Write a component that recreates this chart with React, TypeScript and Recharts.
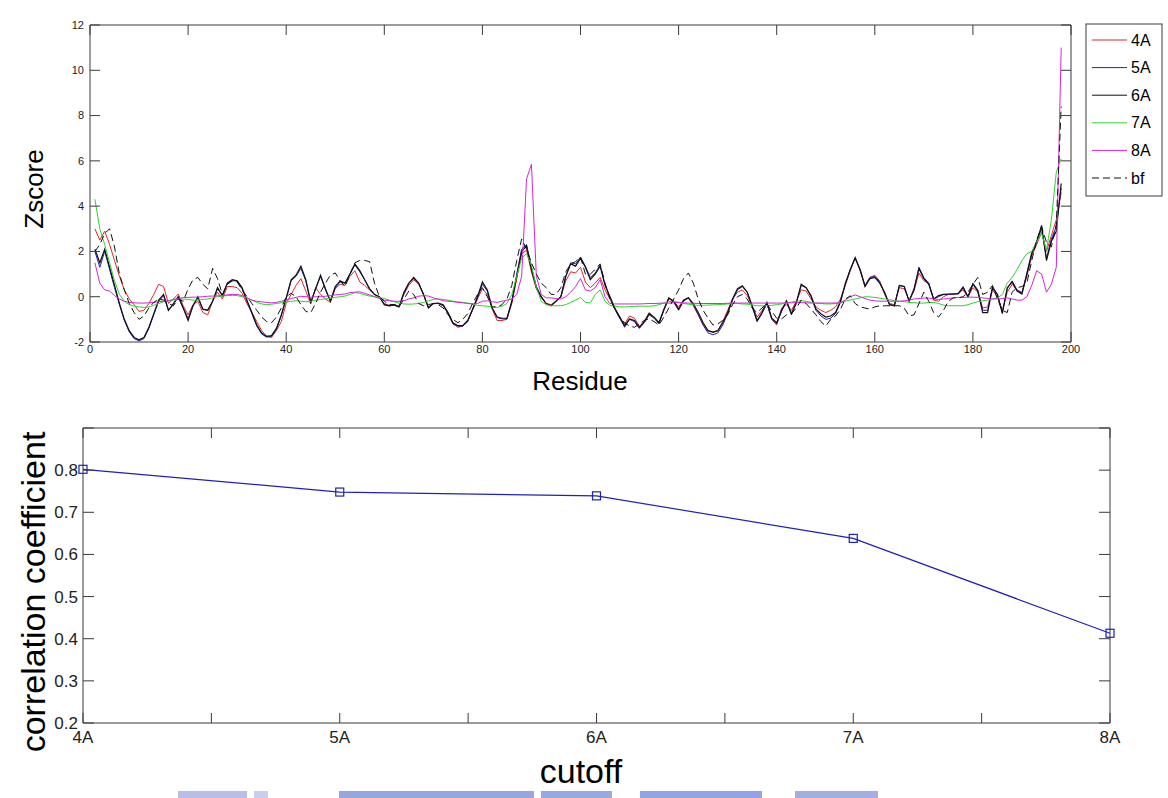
import React from 'react';
import { LineChart, Line, XAxis, YAxis } from 'recharts';

// ---------- Top plot: Zscore per residue ----------
const residues = Array.from({ length: 198 }, (_, i) => i + 1);

const z4A = [
  3.0, 2.5, 2.9, 2.3, 1.6, 0.9, 0.3, -0.1, -0.35, -0.65,
  -0.6, -0.3, 0.1, 0.55, 0.45, -0.3, -0.1, 0.12, -0.4, -0.8,
  -0.35, -0.2, -0.7, -0.8, -0.2, 0.2, -0.1, 0.45, 0.45, 0.4,
  0.15, -0.3, -0.7, -1.1, -1.5, -1.75, -1.8, -1.5, -1.1, -0.3,
  0.1, 0.5, 0.8, 0.25, -0.32, 0.4, 0.1, -0.1, -0.25, 0.35,
  0.55, 0.5, 0.9, 1.15, 0.65, 0.5, 0.3, 0.1, -0.05, -0.3,
  -0.38, -0.35, -0.42, 0.1, 0.5, 0.75, 0.55, 0.1, -0.45, -0.3,
  -0.3, -0.4, -0.75, -1.2, -1.35, -1.3, -1.1, -0.6, -0.1, 0.35,
  0.1, -0.55, -1.05, -1.05, -1.0, -0.3, 0.8, 1.9, 2.05, 1.1,
  0.35, -0.05, -0.3, -0.35, -0.2, 0.0, 0.7, 1.1, 1.05, 1.3,
  0.65, 0.4, 0.6, 0.85, 0.3, -0.1, -0.55, -0.95, -1.2, -0.85,
  -0.95, -1.3, -1.1, -0.7, -0.9, -1.15, -0.6, -0.1, -0.2, -0.45,
  -0.15, -0.05, -0.4, -0.8, -1.25, -1.5, -1.55, -1.5, -1.1, -0.6,
  -0.1, 0.2, 0.3, 0.05, -0.4, -0.9, -0.6, -0.3, -1.0, -1.25,
  -0.5, -0.35, -0.6, -0.2, 0.3, 0.25, -0.1, -0.45, -0.6, -0.7,
  -0.6, -0.45, -0.1, 0.5, 1.15, 1.7, 1.15, 0.45, 0.85, 0.95,
  0.7, 0.1, -0.3, -0.35, 0.4, 0.35, -0.15, 0.25, 1.05, 0.7,
  0.6, -0.15, -0.2, 0.0, 0.1, 0.1, 0.15, 0.3, 0.0, 0.4,
  0.2, -0.5, -0.45, 0.3, 0.0, -0.6, 0.2, 0.55, 0.3, 0.2,
  0.9, 1.8, 2.3, 2.85, 2.0, 2.7, 3.4, 4.6,
];

const z5A = [
  2.0, 1.3, 2.0, 1.2, 0.4, -0.35, -1.05, -1.55, -1.85, -1.95,
  -1.85, -1.4, -0.8, -0.2, 0.05, -0.6, -0.35, 0.0, -0.5, -0.95,
  -0.4, -0.05, -0.55, -0.6, -0.2, 0.35, 0.05, 0.6, 0.7, 0.7,
  0.35, -0.2, -0.75, -1.3, -1.65, -1.78, -1.75, -1.45, -0.85, -0.1,
  0.7, 0.9, 1.25, 0.7, -0.25, 0.35, 0.9, 0.3, -0.2, 0.4,
  0.65, 0.6, 1.0, 1.4, 1.1, 0.75, 0.35, 0.1, 0.0, -0.35,
  -0.4, -0.38, -0.45, 0.15, 0.6, 0.8, 0.6, 0.1, -0.5, -0.3,
  -0.3, -0.38, -0.75, -1.2, -1.3, -1.3, -1.1, -0.55, -0.05, 0.55,
  0.25, -0.5, -0.92, -0.98, -0.98, -0.2, 1.0, 2.1, 2.3, 1.3,
  0.45, 0.0, -0.3, -0.4, -0.2, 0.0, 0.9, 1.5, 1.45, 1.75,
  1.35, 0.85, 1.05, 1.4, 0.55, 0.0, -0.55, -0.95, -1.35, -1.0,
  -1.1, -1.4, -1.15, -0.8, -0.95, -1.2, -0.6, -0.05, -0.25, -0.6,
  -0.2, -0.05, -0.35, -0.8, -1.25, -1.6, -1.68, -1.6, -1.25, -0.75,
  -0.15, 0.3, 0.45, 0.2, -0.45, -1.1, -0.75, -0.3, -1.0, -1.2,
  -0.65, -0.2, -0.8, -0.3, 0.5, 0.4, 0.0, -0.6, -0.85, -1.0,
  -0.95, -0.75, -0.25, 0.55, 1.2, 1.7, 1.2, 0.5, 0.85, 0.9,
  0.65, 0.15, -0.35, -0.4, 0.5, 0.45, -0.2, 0.3, 1.3, 0.85,
  0.6, -0.1, 0.0, 0.1, 0.1, 0.12, 0.15, 0.45, 0.0, 0.6,
  0.3, -0.6, -0.6, 0.45, 0.1, -0.7, 0.35, 0.7, 0.3, 0.15,
  1.05, 1.95, 2.45, 3.0, 1.7, 2.55, 3.1, 4.8,
];

const z6A = [
  2.1, 1.5, 2.1, 1.3, 0.5, -0.3, -1.0, -1.5, -1.8, -1.9,
  -1.8, -1.35, -0.75, -0.15, 0.1, -0.6, -0.3, 0.0, -0.5, -1.05,
  -0.4, 0.0, -0.55, -0.6, -0.2, 0.4, 0.05, 0.6, 0.75, 0.7,
  0.4, -0.15, -0.7, -1.25, -1.6, -1.75, -1.72, -1.4, -0.8, -0.05,
  0.75, 0.95, 1.35, 0.75, -0.25, 0.35, 0.95, 0.35, -0.2, 0.45,
  0.7, 0.6, 1.0, 1.45, 1.15, 0.75, 0.35, 0.1, 0.0, -0.35,
  -0.4, -0.35, -0.45, 0.2, 0.6, 0.85, 0.6, 0.1, -0.5, -0.3,
  -0.28, -0.35, -0.7, -1.15, -1.28, -1.28, -1.05, -0.55, 0.0, 0.65,
  0.3, -0.5, -0.9, -0.95, -0.95, -0.2, 0.9, 2.0, 2.25, 1.2,
  0.4, 0.0, -0.3, -0.4, -0.2, 0.0, 0.9, 1.45, 1.35, 1.7,
  1.3, 0.75, 1.0, 1.35, 0.5, 0.0, -0.5, -0.9, -1.28, -0.98,
  -1.05, -1.35, -1.1, -0.75, -0.9, -1.15, -0.55, -0.05, -0.2, -0.55,
  -0.15, -0.05, -0.3, -0.7, -1.15, -1.5, -1.57, -1.5, -1.15, -0.7,
  -0.1, 0.35, 0.48, 0.2, -0.4, -1.05, -0.7, -0.25, -0.95, -1.15,
  -0.6, -0.18, -0.75, -0.25, 0.55, 0.4, 0.05, -0.55, -0.75, -0.9,
  -0.85, -0.7, -0.2, 0.6, 1.2, 1.73, 1.2, 0.45, 0.8, 0.85,
  0.6, 0.2, -0.35, -0.4, 0.5, 0.45, -0.2, 0.35, 1.25, 0.8,
  0.55, -0.1, 0.05, 0.1, 0.12, 0.12, 0.12, 0.4, 0.0, 0.55,
  0.25, -0.7, -0.7, 0.4, 0.1, -0.75, 0.4, 0.65, 0.25, 0.12,
  1.0, 1.9, 2.4, 3.15, 1.6, 2.45, 2.9, 5.0,
];

const z7A = [
  4.3, 3.0, 2.3, 1.5, 0.7, 0.1, -0.2, -0.35, -0.42, -0.45,
  -0.47, -0.45, -0.38, -0.3, -0.22, -0.2, -0.15, -0.12, -0.1, -0.12,
  -0.15, -0.15, -0.12, -0.1, -0.05, 0.0, 0.03, 0.05, 0.06, 0.05,
  0.0, -0.05, -0.15, -0.25, -0.32, -0.35, -0.33, -0.3, -0.27, -0.24,
  -0.2, -0.18, -0.2, -0.22, -0.2, -0.16, -0.12, -0.1, -0.06, -0.03,
  0.0, 0.03, 0.1, 0.18, 0.15, 0.08, 0.03, 0.0, -0.03, -0.08,
  -0.15, -0.22, -0.28, -0.32, -0.33, -0.32, -0.3, -0.25, -0.18, -0.12,
  -0.1, -0.12, -0.15, -0.2, -0.23, -0.25, -0.28, -0.32, -0.38, -0.4,
  -0.42, -0.45, -0.47, -0.42, -0.3, 0.1, 0.9, 1.7, 1.9, 1.4,
  0.4, -0.2, -0.35, -0.4, -0.4, -0.4, -0.35, -0.25, -0.15, -0.03,
  -0.25, -0.28, 0.1, 0.3, -0.2, -0.38, -0.42, -0.45, -0.45, -0.44,
  -0.43, -0.42, -0.42, -0.42, -0.4, -0.35, -0.28, -0.22, -0.2, -0.25,
  -0.3, -0.33, -0.36, -0.38, -0.38, -0.37, -0.36, -0.35, -0.34, -0.32,
  -0.3, -0.3, -0.32, -0.33, -0.36, -0.4, -0.4, -0.4, -0.38, -0.35,
  -0.32, -0.28, -0.24, -0.2, -0.18, -0.2, -0.25, -0.28, -0.3, -0.32,
  -0.32, -0.3, -0.27, -0.2, -0.14, -0.1, -0.05, 0.0, -0.01, -0.03,
  -0.06, -0.1, -0.13, -0.17, -0.2, -0.22, -0.25, -0.27, -0.28, -0.28,
  -0.26, -0.25, -0.3, -0.37, -0.4, -0.4, -0.4, -0.4, -0.35, -0.28,
  -0.22, -0.18, -0.15, -0.1, -0.05, 0.1, 0.6, 0.85, 1.2, 1.6,
  1.9, 2.0, 2.4, 2.8, 2.05, 3.4, 5.5, 6.1,
];

const z8A = [
  1.5, 0.6, 0.3, 0.25, 0.05, -0.1, -0.2, -0.25, -0.27, -0.28,
  -0.28, -0.27, -0.25, -0.22, -0.2, -0.17, -0.12, -0.08, -0.04, -0.03,
  -0.02, -0.02, 0.0, 0.02, 0.03, 0.04, 0.05, 0.08, 0.1, 0.1,
  0.05, -0.05, -0.15, -0.2, -0.23, -0.25, -0.27, -0.25, -0.2, -0.15,
  -0.08, -0.03, 0.02, 0.0, -0.02, 0.0, 0.0, 0.02, 0.05, 0.08,
  0.1, 0.12, 0.18, 0.2, 0.22, 0.15, 0.08, 0.0, -0.08, -0.15,
  -0.18, -0.2, -0.2, -0.18, -0.1, -0.05, 0.02, 0.05, 0.03, -0.05,
  -0.1, -0.18, -0.2, -0.22, -0.25, -0.27, -0.3, -0.32, -0.3, -0.2,
  -0.18, -0.22, -0.25, -0.2, -0.15, -0.1, 0.1, 0.9, 5.2, 5.85,
  0.9, 0.1, -0.05, -0.05, -0.08, -0.1, 0.0, 0.2, 0.45, 0.8,
  0.3, 0.25, 0.4, 0.75, 0.0, -0.3, -0.32, -0.32, -0.32, -0.32,
  -0.32, -0.32, -0.31, -0.3, -0.3, -0.29, -0.28, -0.28, -0.27, -0.25,
  -0.27, -0.28, -0.29, -0.3, -0.3, -0.3, -0.3, -0.3, -0.3, -0.29,
  -0.28, -0.28, -0.28, -0.28, -0.28, -0.28, -0.28, -0.28, -0.28, -0.28,
  -0.28, -0.27, -0.27, -0.26, -0.26, -0.27, -0.28, -0.28, -0.28, -0.28,
  -0.28, -0.28, -0.25, -0.15, 0.0, 0.08, 0.0, -0.08, -0.15, -0.18,
  -0.2, -0.2, -0.2, -0.2, -0.2, -0.18, -0.15, -0.1, -0.08, -0.06,
  -0.06, -0.1, -0.12, -0.1, -0.08, -0.05, -0.03, -0.03, -0.02, -0.02,
  -0.03, -0.05, -0.08, -0.1, -0.1, -0.08, -0.05, -0.1, -0.15, -0.15,
  0.0, 0.5, 1.15, 1.0, 0.2, 0.55, 1.3, 11.0,
];

const zbf = [
  2.0, 2.3, 2.8, 3.0, 2.2, 1.0, 0.3, -0.3, -0.7, -1.0,
  -0.85, -0.5, -0.25, -0.1, -0.15, -0.3, -0.4, -0.1, -0.2, 0.35,
  0.75, 0.85, 0.55, 0.35, 1.25, 0.8, 0.1, 0.55, 0.7, 0.65,
  0.3, 0.0, -0.3, -0.6, -0.9, -1.1, -1.15, -0.9, -0.5, 0.0,
  0.15, 0.0, -0.35, -0.65, -0.7, -0.3, 0.2, 0.6, 0.95, 1.05,
  0.7, 0.45, 1.0, 1.5, 1.6, 1.6, 1.55, 0.6, 0.0, -0.2,
  -0.35, -0.35, -0.45, -0.1, 0.25, 0.1, -0.3, -0.4, -0.35, -0.3,
  -0.35, -0.5, -0.8, -1.0, -1.15, -1.0, -0.75, -0.3, 0.1, 0.4,
  0.0, -0.45, -0.45, -0.35, -0.1, 0.5, 1.6, 2.55, 2.1, 1.5,
  1.0, 0.6, 0.4, 0.1, 0.1, 0.4, 1.1, 1.45, 1.55, 1.75,
  1.0, 1.0, 1.2, 1.45, 0.6, -0.1, -0.55, -0.9, -1.15, -1.3,
  -1.35, -1.2, -1.05, -0.98, -1.1, -1.25, -0.9, -0.5, -0.1, 0.3,
  0.8, 1.05, 0.6, -0.1, -0.6, -0.95, -1.25, -1.2, -1.05, -0.8,
  -0.35, 0.0, 0.1, -0.1, -0.5, -0.7, -0.5, -0.3, -0.65, -0.95,
  -0.98, -0.8, -0.75, -0.5, -0.15, -0.3, -0.55, -0.8, -1.1, -1.3,
  -1.0, -0.85, -0.55, -0.1, 0.04, -0.3, -0.45, -0.5, -0.55, -0.45,
  -0.4, -0.4, -0.4, -0.4, -0.4, -0.5, -0.85, -0.8, -0.3, 0.2,
  -0.2, -0.7, -0.9, -0.6, -0.2, -0.05, -0.05, 0.0, 0.2, 0.55,
  0.85, 0.1, 0.2, 0.5, -0.1, -0.6, -0.7, 0.2, 0.4, 0.45,
  0.6, 1.6, 2.5, 3.1, 2.4, 2.2, 3.2, 8.4,
];

const zSeriesNames = ['4A', '5A', '6A', '7A', '8A', 'bf'];
const zSeriesColors = ['#e3262a', '#2121b8', '#111111', '#2fd22f', '#d624d6', '#111111'];
const zSeriesDash = ['', '', '', '', '', '7 4'];
const zSeriesValues = [z4A, z5A, z6A, z7A, z8A, zbf];

const zTicksX = [0, 20, 40, 60, 80, 100, 120, 140, 160, 180, 200];
const zTicksY = [-2, 0, 2, 4, 6, 8, 10, 12];

const zData = residues.map((r, i) => {
  const row: Record<string, number> = { res: r };
  zSeriesNames.forEach((n, k) => {
    row[n] = zSeriesValues[k][i];
  });
  return row;
});

// ---------- Bottom plot: correlation coefficient per cutoff ----------
const cutoffs = ['4A', '5A', '6A', '7A', '8A'];
const corrValues = [0.802, 0.748, 0.739, 0.638, 0.413];
const corrTicksX = [4, 4.5, 5, 5.5, 6, 6.5, 7, 7.5, 8];
const corrTicksY = [0.2, 0.3, 0.4, 0.5, 0.6, 0.7, 0.8, 0.9];

const corrData = cutoffs.map((c, i) => ({ pos: i + 4, cutoff: c, corr: corrValues[i] }));

const frameColor = '#3a3a3a';
const axisStroke = { stroke: frameColor, strokeWidth: 1 };
const smallTick = { fontSize: 11, fill: '#222', fontFamily: 'Liberation Sans, Arial, sans-serif' };
const bigTick = { fontSize: 17, fill: '#222', fontFamily: 'Liberation Sans, Arial, sans-serif' };

const SquareDot = (props: any) => {
  const { cx, cy } = props;
  if (cx == null || cy == null) return null;
  return <rect x={cx - 4} y={cy - 4} width={8} height={8} fill="none" stroke="#2020b8" strokeWidth={1.2} />;
};

const blurBars = [
  { l: 178, w: 69, c: '#b7bfe4' },
  { l: 254, w: 14, c: '#c9cfe9' },
  { l: 339, w: 195, c: '#98a6e0' },
  { l: 541, w: 71, c: '#9aa8e2' },
  { l: 640, w: 122, c: '#93a3e3' },
  { l: 795, w: 83, c: '#a3afe2' },
];

export default function App() {
  return (
    <div style={{ position: 'absolute', left: 0, top: 0, width: 1168, height: 798, background: '#fff', overflow: 'hidden' }}>
      <div style={{ position: 'absolute', left: 0, top: 0 }}>
        <LineChart width={1168} height={400} data={zData} margin={{ top: 24, right: 96, bottom: 28, left: 60 }}>
          <XAxis
            xAxisId="b"
            dataKey="res"
            type="number"
            domain={[0, 200]}
            ticks={zTicksX}
            interval={0}
            allowDataOverflow
            height={30}
            tickSize={-10}
            tickMargin={13}
            tick={smallTick}
            axisLine={axisStroke}
            tickLine={axisStroke}
          />
          <XAxis
            xAxisId="t"
            orientation="top"
            dataKey="res"
            type="number"
            domain={[0, 200]}
            ticks={zTicksX}
            interval={0}
            allowDataOverflow
            height={1}
            tickSize={-10}
            tickFormatter={() => ''}
            axisLine={axisStroke}
            tickLine={axisStroke}
          />
          <YAxis
            yAxisId="l"
            type="number"
            domain={[-2, 12]}
            ticks={zTicksY}
            interval={0}
            allowDataOverflow
            width={30}
            tickSize={-10}
            tickMargin={16}
            tick={smallTick}
            axisLine={axisStroke}
            tickLine={axisStroke}
          />
          <YAxis
            yAxisId="r"
            orientation="right"
            type="number"
            domain={[-2, 12]}
            ticks={zTicksY}
            interval={0}
            allowDataOverflow
            width={1}
            tickSize={-10}
            tickFormatter={() => ''}
            axisLine={axisStroke}
            tickLine={axisStroke}
          />
          <Line
            xAxisId="t"
            yAxisId="r"
            dataKey="6A"
            stroke="none"
            dot={false}
            activeDot={false}
            legendType="none"
            isAnimationActive={false}
          />
          {zSeriesNames.map((n, k) => (
            <Line
              key={n}
              xAxisId="b"
              yAxisId="l"
              type="linear"
              dataKey={n}
              stroke={zSeriesColors[k]}
              strokeWidth={k === 2 ? 1.2 : 1}
              strokeDasharray={zSeriesDash[k] || undefined}
              dot={false}
              activeDot={false}
              isAnimationActive={false}
            />
          ))}
        </LineChart>
      </div>

      <div style={{ position: 'absolute', left: 0, top: 400 }}>
        <LineChart width={1168} height={398} data={corrData} margin={{ top: 27, right: 57, bottom: 35, left: 43 }}>
          <XAxis
            xAxisId="b"
            dataKey="pos"
            type="number"
            domain={[4, 8]}
            ticks={corrTicksX}
            interval={0}
            height={40}
            tickSize={-10}
            tickMargin={18}
            tick={bigTick}
            tickFormatter={(v: number) => (Number.isInteger(v) ? cutoffs[v - 4] : '')}
            axisLine={axisStroke}
            tickLine={axisStroke}
          />
          <XAxis
            xAxisId="t"
            orientation="top"
            dataKey="pos"
            type="number"
            domain={[4, 8]}
            ticks={corrTicksX}
            interval={0}
            height={1}
            tickSize={-10}
            tickFormatter={() => ''}
            axisLine={axisStroke}
            tickLine={axisStroke}
          />
          <YAxis
            yAxisId="l"
            type="number"
            domain={[0.2, 0.9]}
            ticks={corrTicksY}
            interval={0}
            width={40}
            tickSize={-11}
            tickMargin={16}
            tick={bigTick}
            tickFormatter={(v: number) => (v > 0.85 ? '' : v.toFixed(1))}
            axisLine={axisStroke}
            tickLine={axisStroke}
          />
          <YAxis
            yAxisId="r"
            orientation="right"
            type="number"
            domain={[0.2, 0.9]}
            ticks={corrTicksY}
            interval={0}
            width={1}
            tickSize={-11}
            tickFormatter={() => ''}
            axisLine={axisStroke}
            tickLine={axisStroke}
          />
          <Line
            xAxisId="t"
            yAxisId="r"
            dataKey="corr"
            stroke="none"
            dot={false}
            activeDot={false}
            legendType="none"
            isAnimationActive={false}
          />
          <Line
            xAxisId="b"
            yAxisId="l"
            type="linear"
            dataKey="corr"
            stroke="#2020b8"
            strokeWidth={1.2}
            dot={<SquareDot />}
            activeDot={false}
            isAnimationActive={false}
          />
        </LineChart>
      </div>

      {/* axis titles and legend */}
      <svg
        width={1168}
        height={798}
        style={{ position: 'absolute', left: 0, top: 0, pointerEvents: 'none' }}
        fontFamily="Liberation Sans, Arial, sans-serif"
      >
        <text x={34} y={189} fontSize={26} fill="#000" textAnchor="middle" dominantBaseline="central" transform="rotate(-90 34 189)">
          Zscore
        </text>
        <text x={580} y={390} fontSize={26} fill="#000" textAnchor="middle">
          Residue
        </text>
        <text x={33} y={592} fontSize={34} fill="#000" textAnchor="middle" dominantBaseline="central" transform="rotate(-90 33 592)">
          correlation coefficient
        </text>
        <text x={581} y={783} fontSize={34} fill="#000" textAnchor="middle">
          cutoff
        </text>

        <g transform="translate(1086,24)">
          <rect x={0} y={0} width={76} height={172} fill="#fff" stroke={frameColor} strokeWidth={1} />
          {zSeriesNames.map((n, k) => {
            const y = 16 + k * 27.6;
            return (
              <g key={n}>
                <line
                  x1={6}
                  x2={41}
                  y1={y}
                  y2={y}
                  stroke={zSeriesColors[k]}
                  strokeWidth={1}
                  strokeDasharray={zSeriesDash[k] || undefined}
                />
                <text x={45} y={y} fontSize={16} fill="#000" dominantBaseline="central">
                  {n}
                </text>
              </g>
            );
          })}
        </g>
      </svg>

      {blurBars.map((b, i) => (
        <div
          key={i}
          style={{ position: 'absolute', left: b.l, top: 791, width: b.w, height: 7, background: b.c, filter: 'blur(0.6px)' }}
        />
      ))}
    </div>
  );
}
